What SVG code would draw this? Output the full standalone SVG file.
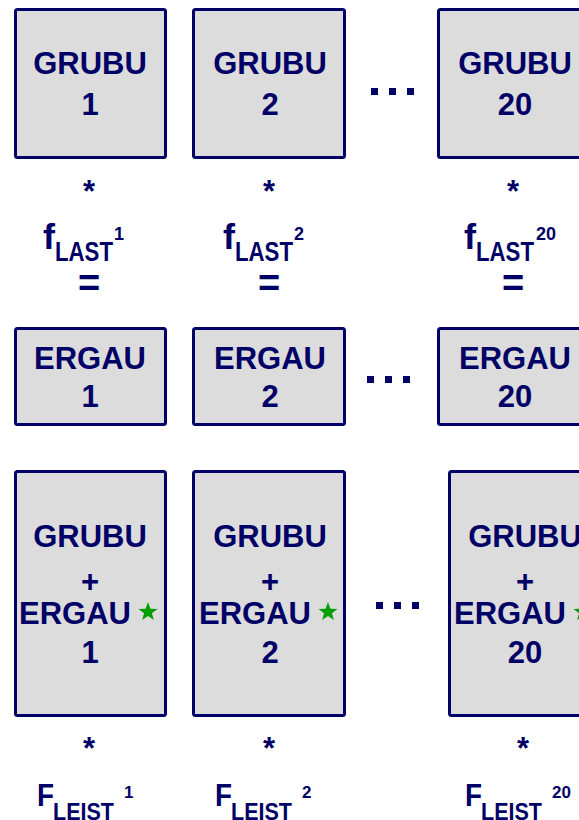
<svg xmlns="http://www.w3.org/2000/svg" width="579" height="820" viewBox="0 0 579 820">
<style>
.box{fill:#dcdcdc;stroke:#000066;stroke-width:3;}
.t{font-family:"Liberation Sans",Arial,sans-serif;font-weight:bold;fill:#000066;}
.c{text-anchor:middle;font-size:31px;}
.dot{fill:#000066;}
.star{fill:#00a000;}
.fb{font-size:35px;}
.fs{font-size:27px;}
.sp{font-size:18px;}
.Fb{font-size:32px;}
.Fs{font-size:23px;}
.Fp{font-size:17px;}
.eq{font-size:38px;text-anchor:middle;}
</style>
<defs>
<polygon id="star" points="0,-10 2.4,-3.3 9.5,-3.1 3.9,1.3 5.9,8.1 0,4.1 -5.9,8.1 -3.9,1.3 -9.5,-3.1 -2.4,-3.3"/>
</defs>
<rect width="579" height="820" fill="#ffffff"/>

<g id="grubu1"><rect class="box" x="15.5" y="9.5" width="150" height="148" rx="2"/><text class="t c" x="90" y="74">GRUBU</text><text class="t c" x="90" y="115">1</text></g>
<g id="grubu2"><rect class="box" x="193.5" y="9.5" width="151" height="148" rx="2"/><text class="t c" x="270" y="74">GRUBU</text><text class="t c" x="270" y="115">2</text></g>
<g id="grubu20"><rect class="box" x="438.5" y="9.5" width="151" height="148" rx="2"/><text class="t c" x="515" y="74">GRUBU</text><text class="t c" x="515" y="115">20</text></g>
<g id="dots1"><rect class="dot" x="371" y="88" width="7" height="7"/><rect class="dot" x="389" y="88" width="7" height="7"/><rect class="dot" x="407" y="88" width="7" height="7"/></g>

<g id="flast1"><text class="t c" x="89" y="202">*</text><text class="t fb" x="43" y="249" textLength="12" lengthAdjust="spacingAndGlyphs">f</text><text class="t fs" x="55" y="261" textLength="58" lengthAdjust="spacingAndGlyphs">LAST</text><text class="t sp" x="114" y="240">1</text><text class="t eq" x="89" y="296">=</text></g>
<g id="flast2"><text class="t c" x="269" y="202">*</text><text class="t fb" x="223" y="249" textLength="12" lengthAdjust="spacingAndGlyphs">f</text><text class="t fs" x="235" y="261" textLength="58" lengthAdjust="spacingAndGlyphs">LAST</text><text class="t sp" x="294" y="240">2</text><text class="t eq" x="269" y="296">=</text></g>
<g id="flast20"><text class="t c" x="513" y="202">*</text><text class="t fb" x="464" y="249" textLength="12" lengthAdjust="spacingAndGlyphs">f</text><text class="t fs" x="476" y="261" textLength="58" lengthAdjust="spacingAndGlyphs">LAST</text><text class="t sp" x="536" y="240">20</text><text class="t eq" x="513" y="296">=</text></g>

<g id="ergau1"><rect class="box" x="15.5" y="328.5" width="150" height="96" rx="2"/><text class="t c" x="90" y="369">ERGAU</text><text class="t c" x="90" y="407">1</text></g>
<g id="ergau2"><rect class="box" x="193.5" y="328.5" width="151" height="96" rx="2"/><text class="t c" x="270" y="369">ERGAU</text><text class="t c" x="270" y="407">2</text></g>
<g id="ergau20"><rect class="box" x="438.5" y="328.5" width="151" height="96" rx="2"/><text class="t c" x="515" y="369">ERGAU</text><text class="t c" x="515" y="407">20</text></g>
<g id="dots2"><rect class="dot" x="367" y="376" width="7" height="7"/><rect class="dot" x="385" y="376" width="7" height="7"/><rect class="dot" x="403" y="376" width="7" height="7"/></g>

<g id="sum1"><rect class="box" x="15.5" y="471.5" width="150" height="244" rx="2"/><text class="t c" x="90" y="547">GRUBU</text><text class="t c" x="90" y="592">+</text><text class="t" x="131" y="624" font-size="31" text-anchor="end">ERGAU</text><use href="#star" class="star" x="148" y="612"/><text class="t c" x="90" y="663">1</text></g>
<g id="sum2"><rect class="box" x="193.5" y="471.5" width="151" height="244" rx="2"/><text class="t c" x="270" y="547">GRUBU</text><text class="t c" x="270" y="592">+</text><text class="t" x="311" y="624" font-size="31" text-anchor="end">ERGAU</text><use href="#star" class="star" x="328" y="612"/><text class="t c" x="270" y="663">2</text></g>
<g id="sum20"><rect class="box" x="449.5" y="471.5" width="151" height="244" rx="2"/><text class="t c" x="525" y="547">GRUBU</text><text class="t c" x="525" y="592">+</text><text class="t" x="566" y="624" font-size="31" text-anchor="end">ERGAU</text><use href="#star" class="star" x="583" y="612"/><text class="t c" x="525" y="663">20</text></g>
<g id="dots3"><rect class="dot" x="376" y="602" width="7" height="7"/><rect class="dot" x="394" y="602" width="7" height="7"/><rect class="dot" x="412" y="602" width="7" height="7"/></g>

<g id="fleist1"><text class="t c" x="89" y="759">*</text><text class="t Fb" x="37" y="806" textLength="17" lengthAdjust="spacingAndGlyphs">F</text><text class="t Fs" x="53" y="820" textLength="61" lengthAdjust="spacingAndGlyphs">LEIST</text><text class="t Fp" x="124" y="798">1</text></g>
<g id="fleist2"><text class="t c" x="269" y="759">*</text><text class="t Fb" x="215" y="806" textLength="17" lengthAdjust="spacingAndGlyphs">F</text><text class="t Fs" x="231" y="820" textLength="61" lengthAdjust="spacingAndGlyphs">LEIST</text><text class="t Fp" x="302" y="798">2</text></g>
<g id="fleist20"><text class="t c" x="523" y="759">*</text><text class="t Fb" x="465" y="806" textLength="17" lengthAdjust="spacingAndGlyphs">F</text><text class="t Fs" x="481" y="820" textLength="61" lengthAdjust="spacingAndGlyphs">LEIST</text><text class="t Fp" x="552" y="798">20</text></g>
</svg>
